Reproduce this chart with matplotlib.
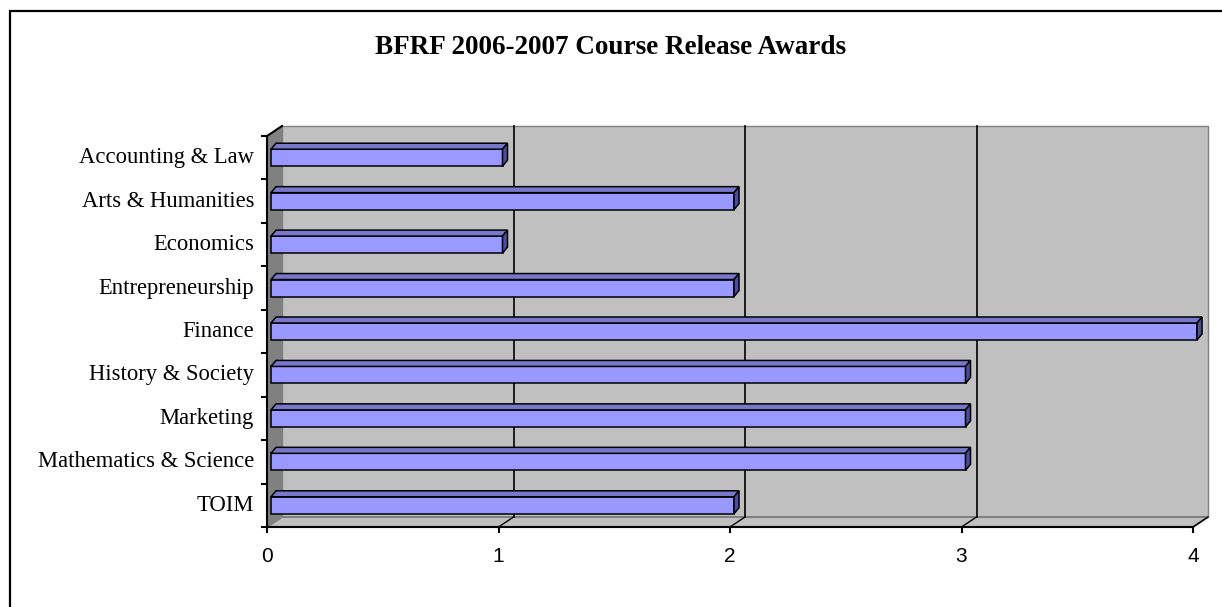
import matplotlib
matplotlib.use("Agg")
import matplotlib.pyplot as plt
from matplotlib.patches import Polygon, Rectangle

# data
categories = ["Accounting & Law", "Arts & Humanities", "Economics", "Entrepreneurship",
              "Finance", "History & Society", "Marketing", "Mathematics & Science", "TOIM"]
awards = [1, 2, 1, 2, 4, 3, 3, 3, 2]
xticks = [0, 1, 2, 3, 4]
title = "BFRF 2006-2007 Course Release Awards"

W, H = 1222, 607
fig = plt.figure(figsize=(W / 100, H / 100), dpi=100)

# front plane of the plot, in pixels
x0, x1 = 267, 1193
ytop, ybot = 136, 527
ax = fig.add_axes([x0 / W, 1 - ybot / H, (x1 - x0) / W, (ybot - ytop) / H])
ax.set_xlim(0, 4)
ax.set_ylim(len(categories) - 0.5, -0.5)
ax.axis("off")

# pixel -> data conversion for the fake 3d offsets
kx = 4 / (x1 - x0)
ky = len(categories) / (ybot - ytop)
wall_dx, wall_dy = 15 * kx, -10 * ky
bot, top = len(categories) - 0.5, -0.5

# side wall
ax.add_patch(Polygon([(0, bot), (0, top), (wall_dx, top + wall_dy), (wall_dx, bot + wall_dy)],
                     closed=True, fc="#808080", ec="none", clip_on=False, zorder=1))
# back wall
ax.add_patch(Polygon([(wall_dx, bot + wall_dy), (wall_dx, top + wall_dy),
                      (4 + wall_dx, top + wall_dy), (4 + wall_dx, bot + wall_dy)],
                     closed=True, fc="#C0C0C0", ec="#808080", lw=1, clip_on=False, zorder=1))
# floor
ax.add_patch(Polygon([(0, bot), (4, bot), (4 + wall_dx, bot + wall_dy), (wall_dx, bot + wall_dy)],
                     closed=True, fc="#C0C0C0", ec="#808080", lw=1.5, clip_on=False, zorder=1))

# gridlines on back wall and floor
for t in xticks[1:-1]:
    ax.plot([t + wall_dx, t + wall_dx], [bot + wall_dy, top + wall_dy], color="black", lw=1.2,
            clip_on=False, zorder=2)
for t in xticks[1:]:
    ax.plot([t, t + wall_dx], [bot, bot + wall_dy], color="black", lw=1, clip_on=False, zorder=2)

# axes lines and ticks
ax.plot([0, 4], [bot, bot], color="black", lw=1.5, clip_on=False, zorder=3)
ax.plot([0, 0], [bot, top], color="black", lw=1.5, clip_on=False, zorder=3)
ax.plot([0, wall_dx], [top, top + wall_dy], color="black", lw=1.5, clip_on=False, zorder=3)
for t in xticks:
    ax.plot([t, t], [bot, bot + 5 * ky], color="black", lw=1.5, clip_on=False, zorder=3)
    ax.text(t, bot + 29 * ky, str(t), ha="center", va="center", fontsize=15,
            family="Liberation Sans")
for i in range(len(categories) + 1):
    ax.plot([0, -5 * kx], [i - 0.5, i - 0.5], color="black", lw=1.5, clip_on=False, zorder=3)
for i, c in enumerate(categories):
    ax.text(-13 * kx, i, c, ha="right", va="center", fontsize=16.3, family="Liberation Serif")

# 3d bars
bh = 17 * ky
bx = 4 * kx
ddx, ddy = 5 * kx, -6 * ky
for i, v in enumerate(awards):
    y0, y1 = i - bh / 2, i + bh / 2
    xs, xe = bx, v + bx
    ax.add_patch(Rectangle((xs, y0), xe - xs, bh, fc="#9999FF", ec="black", lw=1.1,
                           clip_on=False, zorder=5))
    ax.add_patch(Polygon([(xs, y0), (xe, y0), (xe + ddx, y0 + ddy), (xs + ddx, y0 + ddy)],
                         closed=True, fc="#7777CC", ec="black", lw=1.1, clip_on=False, zorder=5))
    ax.add_patch(Polygon([(xe, y0), (xe, y1), (xe + ddx, y1 + ddy), (xe + ddx, y0 + ddy)],
                         closed=True, fc="#4D4D99", ec="black", lw=1.1, clip_on=False, zorder=5))

fig.text(611 / W, 1 - 47 / H, title, ha="center", va="center", fontsize=19.5,
         fontweight="bold", family="Liberation Serif")

# outer border
fig.patches.append(Rectangle((10 / W, -0.1), 1.2, 1.1 - 11 / H, transform=fig.transFigure,
                             fill=False, ec="black", lw=1.6))

fig.savefig("out.png", dpi=100)
